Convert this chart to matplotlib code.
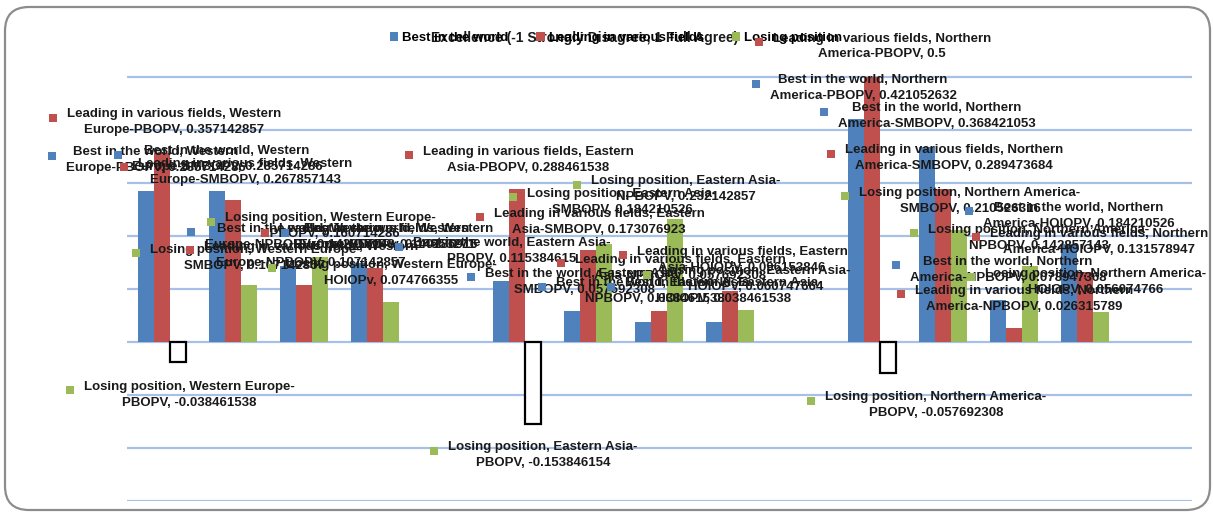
import numpy as np
import matplotlib
matplotlib.use("Agg")
import matplotlib.pyplot as plt
from matplotlib.patches import Patch, Rectangle, FancyBboxPatch
from matplotlib.transforms import IdentityTransform

# Datos
regions = ["Western Europe", "Eastern Asia", "Northern America"]
region_cats = [["PBOPV", "SMBOPV", "NPBOPV", "HOIOPv"],
               ["PBOPV", "SMBOPV", "NPBOPV", "HOIOPV"],
               ["PBOPV", "SMBOPV", "NPBOPV", "HOIOPV"]]
series_names = ["Best in the world", "Leading in various fields", "Losing position"]

best = [0.285714286, 0.285714286, 0.142857143, 0.14953271,
        0.115384615, 0.057692308, 0.038461538, 0.038461538,
        0.421052632, 0.368421053, 0.078947368, 0.184210526]
leading = [0.357142857, 0.267857143, 0.107142857, 0.140186916,
           0.288461538, 0.173076923, 0.057692308, 0.096153846,
           0.5, 0.289473684, 0.026315789, 0.131578947]
losing = [-0.038461538, 0.107142857, 0.160714286, 0.074766355,
          -0.153846154, 0.184210526, 0.232142857, 0.060747664,
          -0.057692308, 0.210526316, 0.142857143, 0.056074766]

title = "Excellence (-1 Strongly Disagree, 1 Full Agree)"
colors = ["#4F81BD", "#C0504D", "#9BBB59"]
fuente = "Liberation Sans"

# desplazamiento de cada etiqueta (pixeles) respecto a la punta de la barra
default_off = (10, 40)
label_off = {
    (0, 1): (10, 41), (0, 2): (12, 39), (0, 3): (28, 35),
    (1, 0): (12, 40), (1, 1): (12, 38), (1, 2): (7, 40), (1, 3): (11, 40),
    (2, 0): (11, -23), (2, 1): (6, 37), (2, 3): (0, 39),
    (0, 4): (11, 39), (0, 5): (12, 39), (0, 6): (12, 40),
    (1, 4): (11, 39), (1, 5): (11, 38), (1, 6): (21, 53), (1, 7): (12, 41),
    (2, 4): (10, -22), (2, 5): (18, 52), (2, 6): (11, 39),
    (0, 8): (7, 40), (0, 11): (10, 38),
    (1, 9): (11, 40), (1, 10): (10, 39), (1, 11): (14, 40),
    (2, 8): (48, -23), (2, 9): (11, 39), (2, 10): (9, 38), (2, 11): (-5, 40),
}

W, H = 1213, 513
fig = plt.figure(figsize=(W / 100, H / 100), dpi=100)
ax = fig.add_axes([126.5 / W, 12 / H, 1065 / W, 453 / H])

# posiciones de las categorias: 4 por region y un hueco entre regiones
xpos = np.array([r * 5 + k for r in range(3) for k in range(4)])
bw = 16 / 71
data = [best, leading, losing]

for s, vals in enumerate(data):
    for j, v in enumerate(vals):
        x = xpos[j] + (s - 1) * bw
        if v < 0:
            ax.bar(x, v, bw, color="white", edgecolor="black", linewidth=1.6, zorder=3)
        else:
            ax.bar(x, v, bw, color=colors[s], linewidth=0, zorder=3)

ax.set_xlim(-0.5, 14.5)
ax.set_ylim(-0.3, 0.5547)
ax.set_yticks(np.arange(-0.3, 0.51, 0.1))
ax.yaxis.grid(True, color="#A7C0E7", linewidth=1.6)
ax.set_axisbelow(True)
ax.tick_params(left=False, bottom=False, labelleft=False, labelbottom=False)
for sp in ax.spines.values():
    sp.set_visible(False)

# etiquetas de datos
fs = 9.5
ls = 19 / (fs * 100 / 72)
texts = []
for s, vals in enumerate(data):
    for j, v in enumerate(vals):
        r, k = j // 4, j % 4
        region = regions[r]
        cat = region_cats[r][k]
        val = f"{v:.9f}".rstrip("0")
        if s == 2 or (s == 0 and region == "Eastern Asia"):
            txt = f"{series_names[s]}, {region}-\n{cat}, {val}"
        else:
            a, b = region.split()
            txt = f"{series_names[s]}, {a}\n{b}-{cat}, {val}"
        dx, dy = label_off.get((s, j), default_off)
        x = xpos[j] + (s - 1) * bw
        t = ax.annotate(txt, (x, v), xytext=(dx, dy - 9.5), textcoords="offset pixels",
                        ha="center", va="center", multialignment="center",
                        fontsize=fs, fontweight="bold", family=fuente,
                        linespacing=ls, color="#1A1A1A", zorder=5, annotation_clip=False)
        texts.append((t, colors[s]))

# titulo y leyenda
fig.text(585 / W, 1 - 38 / H, title, ha="center", va="center",
         fontsize=10, fontweight="bold", family=fuente, color="#1A1A1A")
handles = [Patch(facecolor=c, edgecolor="none", label=n) for c, n in zip(colors, series_names)]
fig.legend(handles=handles, loc="center", bbox_to_anchor=(616 / W, 1 - 38 / H), ncol=3,
           frameon=False, handlelength=0.62, handleheight=0.62, handletextpad=0.3,
           columnspacing=2.15, prop={"family": fuente, "weight": "bold", "size": 9.5})

# marco redondeado del grafico
fig.add_artist(FancyBboxPatch((5, 3), 1205, 503, boxstyle="round,pad=0,rounding_size=24",
                              transform=IdentityTransform(), fill=False,
                              edgecolor="#8C8C8C", linewidth=1.6))

# cuadritos de color delante de cada etiqueta
fig.canvas.draw()
rend = fig.canvas.get_renderer()
for t, c in texts:
    bb = t.get_window_extent(rend)
    fig.add_artist(Rectangle((bb.x0 - 18, bb.y1 - 13.5), 8, 8, facecolor=c,
                             edgecolor="none", transform=IdentityTransform(), zorder=6))

fig.savefig("out.png", dpi=100)
